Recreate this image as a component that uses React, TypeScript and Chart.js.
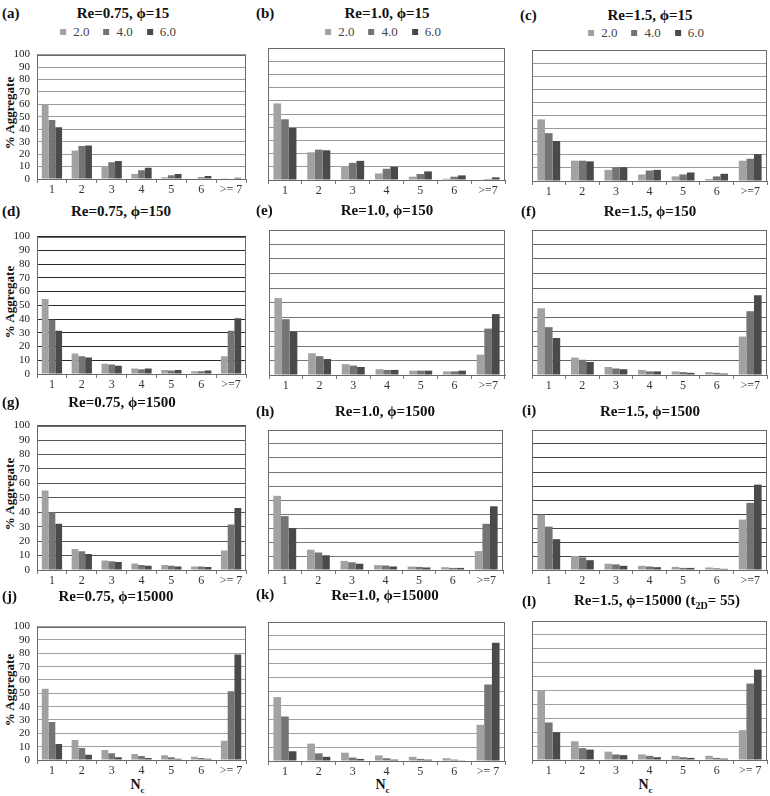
import React, { useEffect, useRef } from "react";
import { Chart, registerables } from "chart.js";
Chart.register(...registerables);

const SERIES_LABELS = ["2.0", "4.0", "6.0"];
const COLORS = ["#a2a2a2", "#747474", "#4a4a4a"];
const Y_MIN = 0;
const Y_MAX = 100;
const Y_STEP = 10;

const CATS_SP = ["1", "2", "3", "4", "5", "6", ">= 7"];
const CATS = ["1", "2", "3", "4", "5", "6", ">=7"];

// (a) Re=0.75, phi=15
const A_2 = [60, 23, 10.5, 4, 1.5, 0.5, 0.3];
const A_4 = [47.5, 26.5, 13.5, 7, 3, 1.5, 0.5];
const A_6 = [41.5, 27, 14.5, 9, 4, 2.5, 1];
// (b) Re=1.0, phi=15
const B_2 = [58, 21, 10.5, 5, 2.5, 1, 0.3];
const B_4 = [46, 23, 13, 8.5, 4.5, 2.5, 0.8];
const B_6 = [39.5, 22.5, 14.5, 10, 6.5, 3.5, 2];
// (c) Re=1.5, phi=15
const C_2 = [47, 15.5, 8.5, 5, 3.5, 1.5, 15.5];
const C_4 = [36.5, 15.5, 10.5, 8, 5, 3.5, 17];
const C_6 = [30.5, 15, 10.5, 8.5, 6.5, 5.5, 20.5];
// (d) Re=0.75, phi=150
const D_2 = [54.5, 15, 7.5, 4, 3, 2, 13];
const D_4 = [39.5, 13, 7, 3.5, 2.5, 2, 31.5];
const D_6 = [31.5, 12, 6, 4, 3, 2.5, 40.5];
// (e) Re=1.0, phi=150
const E_2 = [53, 15, 7.5, 4, 3, 2.5, 14];
const E_4 = [38.5, 13, 6.5, 3.5, 3, 2.5, 32];
const E_6 = [30, 11, 5.5, 3.5, 3, 3, 42];
// (f) Re=1.5, phi=150
const F_2 = [46, 12, 5.5, 3.5, 2.5, 2, 26.5];
const F_4 = [33, 10.5, 4.5, 2.5, 2, 1.5, 44];
const F_6 = [25.5, 9, 4, 2.5, 1.5, 1, 55];
// (g) Re=0.75, phi=1500
const G_2 = [55, 14.5, 6.5, 4.5, 3.5, 2.5, 13.5];
const G_4 = [40, 13, 6, 3.5, 3, 2.5, 31.5];
const G_6 = [32, 11, 5.5, 3, 2.5, 2, 43];
// (h) Re=1.0, phi=1500
const H_2 = [53, 14.5, 6.5, 3.5, 2.5, 2, 13.5];
const H_4 = [38.5, 12.5, 5.5, 3.2, 2.2, 1.5, 33];
const H_6 = [30, 10.5, 4.5, 2.5, 1.8, 1.5, 45.5];
// (i) Re=1.5, phi=1500
const I_2 = [39.5, 10, 4.5, 3, 2.2, 1.8, 36];
const I_4 = [31, 9, 4, 2.5, 1.5, 1.2, 48];
const I_6 = [22, 7, 3, 2, 1.5, 0.8, 61];
// (j) Re=0.75, phi=15000
const J_2 = [53.5, 15, 7.5, 4.5, 3.5, 2.5, 14.5];
const J_4 = [28.5, 9, 5, 3, 2, 1.5, 51.5];
const J_6 = [12, 4, 2, 1.5, 1, 1, 79];
// (k) Re=1.0, phi=15000
const K_2 = [46, 12.5, 6, 4, 3, 2, 26];
const K_4 = [32, 5.5, 2.5, 2, 1.5, 1, 55];
const K_6 = [7, 3, 1.5, 1, 1, 0.5, 85];
// (l) Re=1.5, phi=15000
const L_2 = [50, 13.5, 6, 4, 3, 3, 21.5];
const L_4 = [27, 8.5, 4, 3, 2, 1.5, 55];
const L_6 = [20, 7.5, 3.5, 2, 1.5, 1, 65];

const SERIF = "'Liberation Serif', 'Times New Roman', serif";

type P = {
  key: string;
  letter: string;
  title: React.ReactNode;
  cats: string[];
  series: number[][];
  l: number; r: number; t: number; b: number;
  showY: boolean;
  grid: string;
  lx: number; ly: number; tx: number; ty: number;
  legend?: number; legendY?: number;
  nc?: boolean;
};

const phi = "\u03D5";

const PANELS: P[] = [
  { key: "a", letter: "(a)", title: `Re=0.75, ${phi}=15`, cats: CATS_SP, series: [A_2, A_4, A_6], l: 37, r: 246, t: 47, b: 179, showY: true, grid: "#9a9a9a", lx: 2, ly: 13, tx: 123, ty: 13, legend: 118, legendY: 32 },
  { key: "b", letter: "(b)", title: `Re=1.0, ${phi}=15`, cats: CATS, series: [B_2, B_4, B_6], l: 268, r: 505, t: 48, b: 180, showY: false, grid: "#9a9a9a", lx: 256, ly: 13, tx: 387, ty: 13, legend: 383, legendY: 32 },
  { key: "c", letter: "(c)", title: `Re=1.5, ${phi}=15`, cats: CATS, series: [C_2, C_4, C_6], l: 532, r: 767, t: 50, b: 181, showY: false, grid: "#9a9a9a", lx: 520, ly: 15, tx: 650, ty: 15, legend: 646, legendY: 33 },
  { key: "d", letter: "(d)", title: `Re=0.75, ${phi}=150`, cats: CATS, series: [D_2, D_4, D_6], l: 37, r: 246, t: 229, b: 374, showY: true, grid: "#2a2a2a", lx: 2, ly: 211, tx: 121, ty: 211 },
  { key: "e", letter: "(e)", title: `Re=1.0, ${phi}=150`, cats: CATS, series: [E_2, E_4, E_6], l: 269, r: 505, t: 230, b: 375, showY: false, grid: "#777777", lx: 256, ly: 210, tx: 387, ty: 210 },
  { key: "f", letter: "(f)", title: `Re=1.5, ${phi}=150`, cats: CATS, series: [F_2, F_4, F_6], l: 532, r: 767, t: 230, b: 375, showY: false, grid: "#666666", lx: 521, ly: 211, tx: 650, ty: 211 },
  { key: "g", letter: "(g)", title: `Re=0.75, ${phi}=1500`, cats: CATS_SP, series: [G_2, G_4, G_6], l: 37, r: 246, t: 418, b: 570, showY: true, grid: "#555555", lx: 2, ly: 402, tx: 122, ty: 402 },
  { key: "h", letter: "(h)", title: `Re=1.0, ${phi}=1500`, cats: CATS, series: [H_2, H_4, H_6], l: 268, r: 503, t: 430, b: 570, showY: false, grid: "#777777", lx: 256, ly: 411, tx: 385, ty: 411 },
  { key: "i", letter: "(i)", title: `Re=1.5, ${phi}=1500`, cats: CATS, series: [I_2, I_4, I_6], l: 532, r: 767, t: 430, b: 570, showY: false, grid: "#444444", lx: 522, ly: 410, tx: 650, ty: 411 },
  { key: "j", letter: "(j)", title: `Re=0.75, ${phi}=15000`, cats: CATS_SP, series: [J_2, J_4, J_6], l: 37, r: 246, t: 619, b: 760, showY: true, grid: "#a0a0a0", lx: 2, ly: 596, tx: 116, ty: 596, nc: true },
  { key: "k", letter: "(k)", title: `Re=1.0, ${phi}=15000`, cats: CATS_SP, series: [K_2, K_4, K_6], l: 268, r: 505, t: 622, b: 761, showY: false, grid: "#a0a0a0", lx: 256, ly: 594, tx: 385, ty: 595, nc: true },
  { key: "l", letter: "(l)", title: (<span>Re=1.5, {phi}=15000 (t<sub style={{ fontSize: 10 }}>2D</sub>= 55)</span>), cats: CATS_SP, series: [L_2, L_4, L_6], l: 532, r: 767, t: 621, b: 760, showY: false, grid: "#a0a0a0", lx: 522, ly: 601, tx: 657, ty: 601, nc: true },
];

const framePlugin = {
  id: "frame",
  afterDraw(chart: any) {
    const { ctx, chartArea } = chart;
    ctx.save();
    ctx.strokeStyle = "#6a6a6a";
    ctx.lineWidth = 1;
    const x = Math.round(chartArea.left) + 0.5;
    const y = Math.round(chartArea.top) + 0.5;
    const w = Math.round(chartArea.right) - Math.round(chartArea.left) - 1;
    const h = Math.round(chartArea.bottom) - Math.round(chartArea.top);
    ctx.strokeRect(x, y, w, h);
    ctx.restore();
  },
};

const YW = 40;
const PADT = 6;
const PADR = 6;
const XH = 22;

function Panel({ p }: { p: P }) {
  const ref = useRef<HTMLCanvasElement | null>(null);
  const w = YW + (p.r - p.l) + PADR;
  const h = PADT + (p.b - p.t) + XH;
  useEffect(() => {
    if (!ref.current) return;
    const chart = new Chart(ref.current, {
      type: "bar",
      data: {
        labels: p.cats,
        datasets: p.series.map((d, i) => ({
          label: SERIES_LABELS[i],
          data: d,
          backgroundColor: COLORS[i],
          borderWidth: 0,
          categoryPercentage: 0.68,
          barPercentage: 1,
        })),
      },
      options: {
        responsive: false,
        animation: false,
        devicePixelRatio: 1,
        layout: { padding: { top: PADT, right: PADR, left: 0, bottom: 0 } },
        plugins: {
          legend: { display: false },
          tooltip: { enabled: false },
          title: { display: false },
        },
        scales: {
          x: {
            grid: { display: true, drawOnChartArea: false, offset: true, tickLength: 4, color: "#777" },
            border: { display: true, color: "#6a6a6a" },
            ticks: { font: { family: SERIF, size: 12 }, color: "#333", padding: 0, maxRotation: 0, autoSkip: false },
            afterFit: (s: any) => { s.height = XH; },
          },
          y: {
            min: Y_MIN,
            max: Y_MAX,
            ticks: { stepSize: Y_STEP, autoSkip: false, display: p.showY, font: { family: SERIF, size: 11 }, color: "#222", padding: 7 },
            grid: { color: p.grid, drawTicks: false, lineWidth: 1 },
            border: { display: true, color: "#6a6a6a" },
            afterFit: (s: any) => { s.width = YW; },
          },
        },
      } as any,
      plugins: [framePlugin],
    });
    return () => chart.destroy();
  }, []);
  return (
    <canvas
      ref={ref}
      width={w}
      height={h}
      style={{ position: "absolute", left: p.l - YW, top: p.t - PADT, width: w, height: h }}
    />
  );
}

function Legend({ cx, cy }: { cx: number; cy: number }) {
  return (
    <div
      style={{
        position: "absolute", left: cx, top: cy, transform: "translate(-50%,-50%)",
        display: "flex", alignItems: "center", fontFamily: SERIF, fontSize: 13, color: "#444", whiteSpace: "nowrap",
      }}
    >
      {SERIES_LABELS.map((s, i) => (
        <span key={s} style={{ display: "flex", alignItems: "center", marginLeft: i ? 14 : 0 }}>
          <span style={{ width: 6, height: 6, background: COLORS[i], display: "inline-block", marginRight: 7 }} />
          {s}
        </span>
      ))}
    </div>
  );
}

export default function App() {
  return (
    <div style={{ position: "absolute", left: 0, top: 0, width: 770, height: 796, background: "#fff", overflow: "hidden", fontFamily: SERIF }}>
      {PANELS.map((p) => (
        <React.Fragment key={p.key}>
          <div style={{ position: "absolute", left: p.lx, top: p.ly, transform: "translateY(-50%)", fontWeight: "bold", fontSize: 15, color: "#111", whiteSpace: "nowrap" }}>
            {p.letter}
          </div>
          <div style={{ position: "absolute", left: p.tx, top: p.ty, transform: "translate(-50%,-50%)", fontWeight: "bold", fontSize: 15, color: "#111", whiteSpace: "nowrap" }}>
            {p.title}
          </div>
          {p.legend !== undefined && <Legend cx={p.legend} cy={p.legendY as number} />}
          {p.showY && (
            <div style={{ position: "absolute", left: 10, top: (p.t + p.b) / 2, transform: "translate(-50%,-50%) rotate(-90deg)", fontWeight: "bold", fontSize: 13, color: "#111", whiteSpace: "nowrap" }}>
              % Aggregate
            </div>
          )}
          {p.nc && (
            <div style={{ position: "absolute", left: (p.l + p.r) / 2 - 4, top: 786, transform: "translate(-50%,-50%)", fontWeight: "bold", fontSize: 14, color: "#111", whiteSpace: "nowrap" }}>
              N<sub style={{ fontSize: 9 }}>c</sub>
            </div>
          )}
          <Panel p={p} />
        </React.Fragment>
      ))}
    </div>
  );
}
